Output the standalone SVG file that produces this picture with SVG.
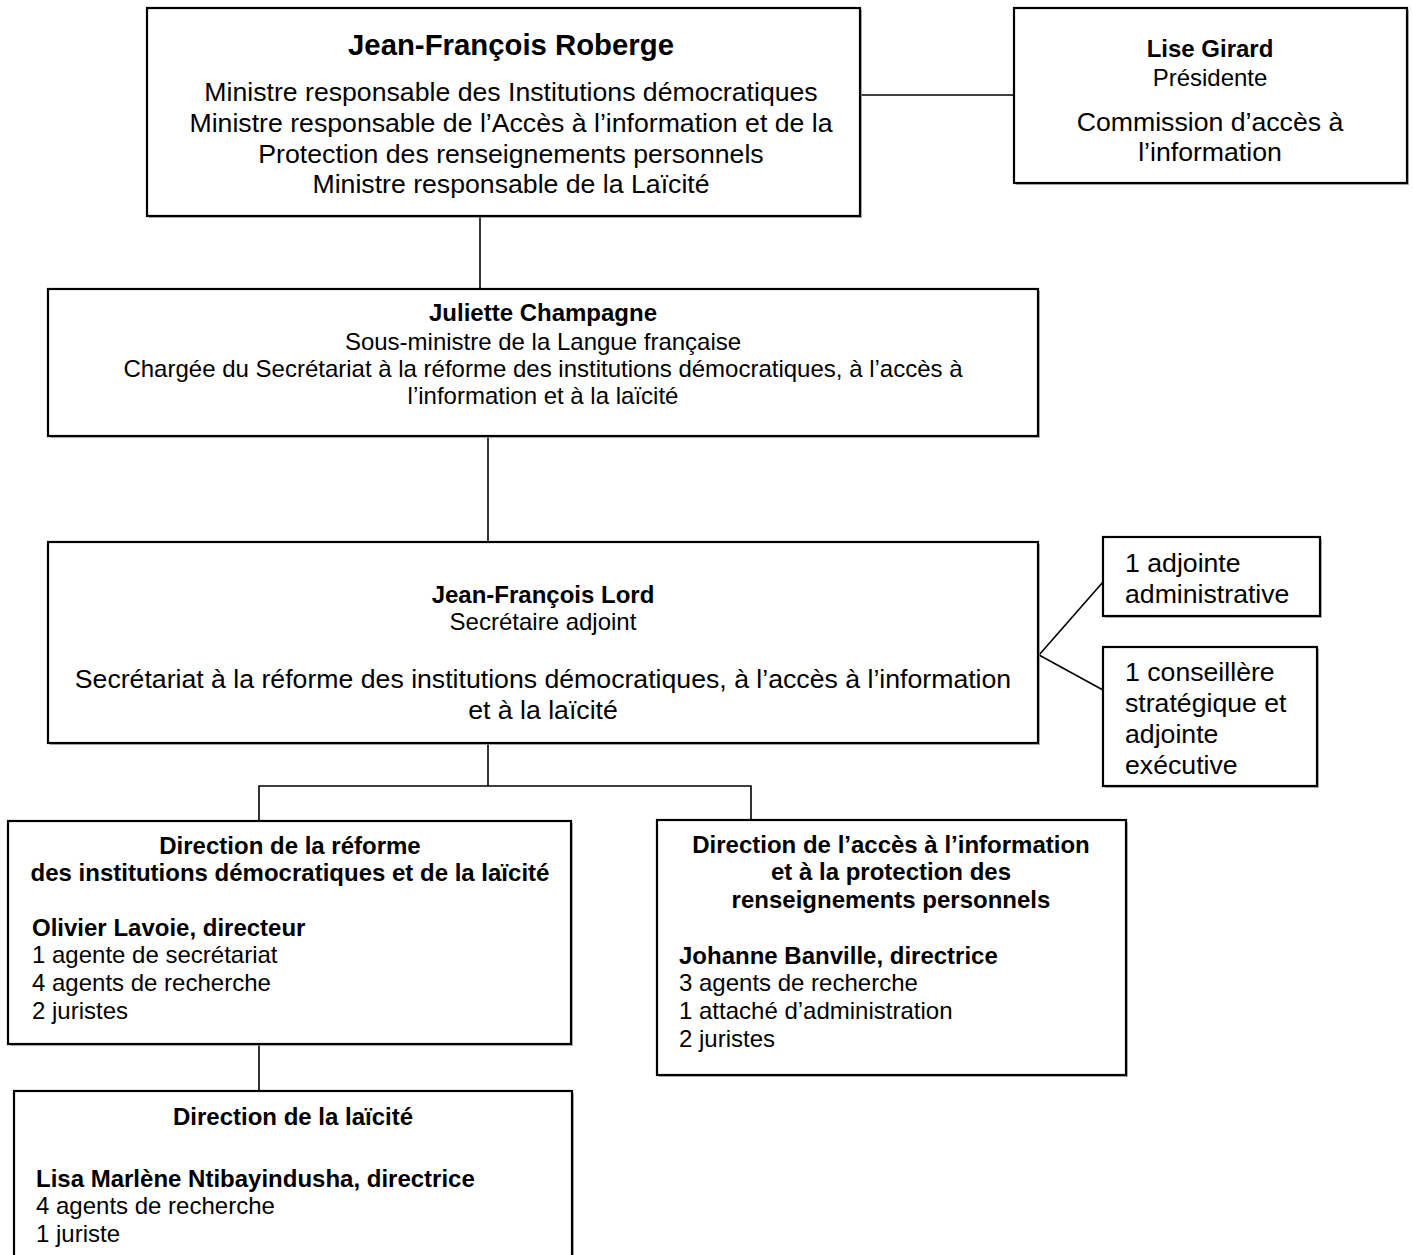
<svg xmlns="http://www.w3.org/2000/svg" width="1413" height="1255" viewBox="0 0 1413 1255">
<style>
.box{fill:#fff;stroke:#000;stroke-width:2.2}
.sh{fill:#999;opacity:0.7}
.ln{stroke:#000;stroke-width:1.6;fill:none}
text{font-family:"Liberation Sans",Arial,sans-serif;fill:#000}
.c{text-anchor:middle}
.b{font-weight:bold}
.s24{font-size:24px}
.s26{font-size:26.67px}
.s29{font-size:29.33px}
</style>
<rect width="1413" height="1255" fill="#fff"/>
<g id="connectors">
<line class="ln" x1="860" y1="95" x2="1014" y2="95"/>
<line class="ln" x1="480" y1="217" x2="480" y2="289"/>
<line class="ln" x1="488" y1="436" x2="488" y2="542"/>
<polyline class="ln" points="488,743 488,786"/>
<polyline class="ln" points="259,821 259,786 751,786 751,820"/>
<polyline class="ln" points="1103,582 1039,655 1103,690"/>
<line class="ln" x1="259" y1="1044" x2="259" y2="1091"/>
</g>
<g id="roberge">
<rect class="sh" x="149" y="10" width="713" height="208"/>
<rect class="box" x="147" y="8" width="713" height="208"/>
<text class="c b s29" x="511" y="55">Jean-François Roberge</text>
<text class="c s26" x="511" y="101">Ministre responsable des Institutions démocratiques</text>
<text class="c s26" x="511" y="132">Ministre responsable de l’Accès à l’information et de la</text>
<text class="c s26" x="511" y="163">Protection des renseignements personnels</text>
<text class="c s26" x="511" y="193">Ministre responsable de la Laïcité</text>
</g>
<g id="girard">
<rect class="sh" x="1016" y="10" width="393" height="175"/>
<rect class="box" x="1014" y="8" width="393" height="175"/>
<text class="c b s24" x="1210" y="57">Lise Girard</text>
<text class="c s24" x="1210" y="86">Présidente</text>
<text class="c s26" x="1210" y="131">Commission d’accès à</text>
<text class="c s26" x="1210" y="161">l’information</text>
</g>
<g id="champagne">
<rect class="sh" x="50" y="291" width="990" height="147"/>
<rect class="box" x="48" y="289" width="990" height="147"/>
<text class="c b s24" x="543" y="321">Juliette Champagne</text>
<text class="c s24" x="543" y="350">Sous-ministre de la Langue française</text>
<text class="c s24" x="543" y="377">Chargée du Secrétariat à la réforme des institutions démocratiques, à l’accès à</text>
<text class="c s24" x="543" y="404">l’information et à la laïcité</text>
</g>
<g id="lord">
<rect class="sh" x="50" y="544" width="990" height="201"/>
<rect class="box" x="48" y="542" width="990" height="201"/>
<text class="c b s24" x="543" y="603">Jean-François Lord</text>
<text class="c s24" x="543" y="630">Secrétaire adjoint</text>
<text class="c s26" x="543" y="688">Secrétariat à la réforme des institutions démocratiques, à l’accès à l’information</text>
<text class="c s26" x="543" y="719">et à la laïcité</text>
</g>
<g id="adjointe">
<rect class="sh" x="1105" y="539" width="217" height="79"/>
<rect class="box" x="1103" y="537" width="217" height="79"/>
<text class="s26" x="1125" y="572">1 adjointe</text>
<text class="s26" x="1125" y="603">administrative</text>
</g>
<g id="conseillere">
<rect class="sh" x="1105" y="649" width="214" height="139"/>
<rect class="box" x="1103" y="647" width="214" height="139"/>
<text class="s26" x="1125" y="681">1 conseillère</text>
<text class="s26" x="1125" y="712">stratégique et</text>
<text class="s26" x="1125" y="743">adjointe</text>
<text class="s26" x="1125" y="774">exécutive</text>
</g>
<g id="reforme">
<rect class="sh" x="10" y="823" width="563" height="223"/>
<rect class="box" x="8" y="821" width="563" height="223"/>
<text class="c b s24" x="290" y="854">Direction de la réforme</text>
<text class="c b s24" x="290" y="881">des institutions démocratiques et de la laïcité</text>
<text class="b s24" x="32" y="936">Olivier Lavoie, directeur</text>
<text class="s24" x="32" y="963">1 agente de secrétariat</text>
<text class="s24" x="32" y="991">4 agents de recherche</text>
<text class="s24" x="32" y="1019">2 juristes</text>
</g>
<g id="acces">
<rect class="sh" x="659" y="822" width="469" height="255"/>
<rect class="box" x="657" y="820" width="469" height="255"/>
<text class="c b s24" x="891" y="853">Direction de l’accès à l’information</text>
<text class="c b s24" x="891" y="880">et à la protection des</text>
<text class="c b s24" x="891" y="908">renseignements personnels</text>
<text class="b s24" x="679" y="964">Johanne Banville, directrice</text>
<text class="s24" x="679" y="991">3 agents de recherche</text>
<text class="s24" x="679" y="1019">1 attaché d’administration</text>
<text class="s24" x="679" y="1047">2 juristes</text>
</g>
<g id="laicite">
<rect class="sh" x="16" y="1093" width="558" height="180"/>
<rect class="box" x="14" y="1091" width="558" height="180"/>
<text class="c b s24" x="293" y="1125">Direction de la laïcité</text>
<text class="b s24" x="36" y="1187">Lisa Marlène Ntibayindusha, directrice</text>
<text class="s24" x="36" y="1214">4 agents de recherche</text>
<text class="s24" x="36" y="1242">1 juriste</text>
</g>
</svg>
